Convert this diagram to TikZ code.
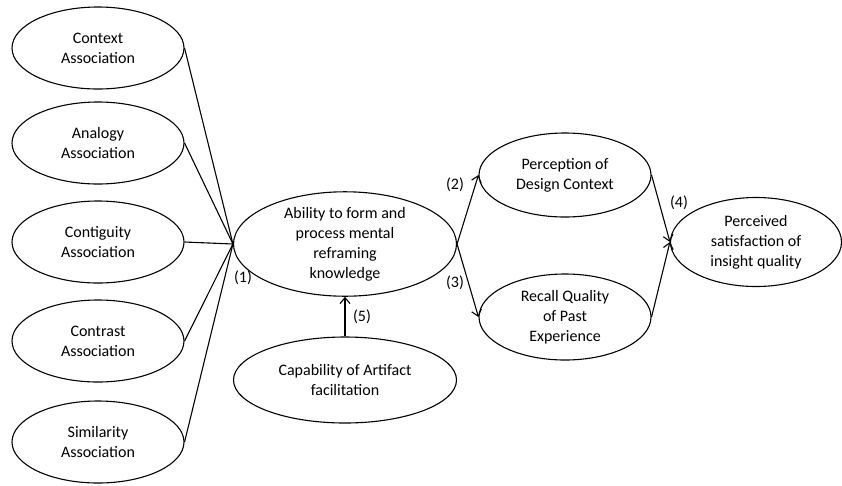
\documentclass[tikz,border=0pt]{standalone}
\usepackage{fontspec}
\setmainfont{Carlito}
\usetikzlibrary{shapes.geometric,arrows.meta}
\begin{document}
\begin{tikzpicture}[x=1pt,y=-1pt,
  ell/.style={ellipse,draw,line width=1.1pt,inner sep=0pt,align=center,
    font=\fontsize{16}{20}\selectfont,minimum width=172pt,minimum height=82pt},
  lbl/.style={font=\fontsize{16}{20}\selectfont,inner sep=0pt},
  conn/.style={line width=1.1pt},
  arr/.style={line width=1.1pt,-{Straight Barb[length=6pt,width=10pt,line width=1.1pt]}}]
\useasboundingbox (0,0) rectangle (842,485);
\node[ell] (ctx) at (98,48) {Context\\Association};
\node[ell] (ana) at (98,143) {Analogy\\Association};
\node[ell] (cont) at (98,242) {Contiguity\\Association};
\node[ell] (ctr) at (98,341) {Contrast\\Association};
\node[ell] (sim) at (98,442) {Similarity\\Association};
\node[ell,minimum width=223pt,minimum height=87pt] (abl) at (345,244) {Ability to form and\\process mental\\reframing\\knowledge};
\node[ell,minimum width=223pt,minimum height=86pt] (cap) at (345,380) {Capability of Artifact\\facilitation};
\node[ell,minimum height=84pt] (per) at (565,175) {Perception of\\Design Context};
\node[ell,minimum height=86pt] (rec) at (565,317) {Recall Quality\\of Past\\Experience};
\node[ell,minimum width=171pt,minimum height=89pt] (sat) at (756,242) {Perceived\\satisfaction of\\insight quality};
\draw[conn] (ctx.east) -- (abl.west);
\draw[conn] (ana.east) -- (abl.west);
\draw[conn] (cont.east) -- (abl.west);
\draw[conn] (ctr.east) -- (abl.west);
\draw[conn] (sim.east) -- (abl.west);
\draw[arr] (cap.north) -- (abl.south);
\draw[arr] (abl.east) -- (per.west);
\draw[arr] (abl.east) -- (rec.west);
\draw[arr] (per.east) -- (sat.west);
\draw[arr] (rec.east) -- (sat.west);
\node[lbl] (l1) at (243,278) {(1)};
\node[lbl] (l2) at (455,185) {(2)};
\node[lbl] (l3) at (455,283) {(3)};
\node[lbl] (l4) at (679,203) {(4)};
\node[lbl] (l5) at (362,317) {(5)};
\end{tikzpicture}
\end{document}
